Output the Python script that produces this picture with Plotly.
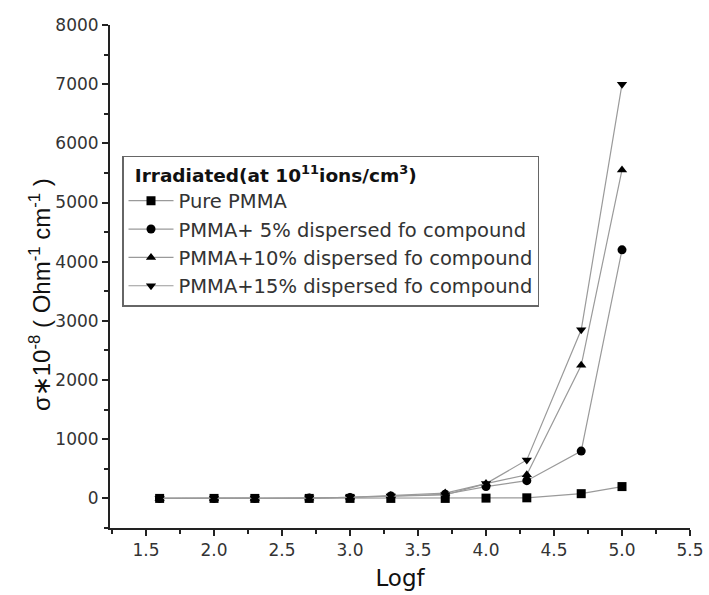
import plotly.graph_objects as go

# log10 of frequency
logf = [1.6, 2.0, 2.3, 2.7, 3.0, 3.3, 3.7, 4.0, 4.3, 4.7, 5.0]

# conductivity sigma * 10^-8 (Ohm^-1 cm^-1)
pure_pmma = [0, 0, 0, 0, 0, 0, 0, 5, 10, 80, 200]
pmma_5 = [0, 0, 0, 5, 15, 40, 70, 200, 300, 800, 4200]
pmma_10 = [0, 0, 0, 5, 20, 50, 90, 250, 400, 2250, 5550]
pmma_15 = [0, 0, 0, 5, 20, 40, 60, 250, 650, 2850, 7000]

series_names = [
    "Pure PMMA",
    "PMMA+ 5% dispersed fo compound",
    "PMMA+10% dispersed fo compound",
    "PMMA+15% dispersed fo compound",
]
series_values = [pure_pmma, pmma_5, pmma_10, pmma_15]
symbols = ["square", "circle", "triangle-up", "triangle-down"]

x_ticks = [1.5, 2.0, 2.5, 3.0, 3.5, 4.0, 4.5, 5.0, 5.5]
y_ticks = [0, 1000, 2000, 3000, 4000, 5000, 6000, 7000, 8000]

fig = go.Figure()
for name, vals, sym in zip(series_names, series_values, symbols):
    fig.add_trace(go.Scatter(
        x=logf, y=vals, name=name, mode="lines+markers",
        line=dict(color="#9a9a9a", width=1.2),
        marker=dict(symbol=sym, color="black", size=9),
    ))

wide = "DejaVu Sans, Verdana, sans-serif"
arial = "Liberation Sans, Arial, sans-serif"
axis_font = dict(family=wide, size=17, color="#333")

fig.update_layout(
    width=709, height=595,
    margin=dict(l=110, r=19, t=25, b=67),
    paper_bgcolor="white", plot_bgcolor="white",
    font=dict(family=wide, color="#111"),
    showlegend=True,
    legend=dict(
        x=0.0207, y=0.7396, xanchor="left", yanchor="top",
        bgcolor="white", bordercolor="#666", borderwidth=1.5,
        font=dict(family=wide, size=19.5, color="#333"),
        title=dict(text="\u2002<b>Irradiated(at 10<sup>11</sup>ions/cm<sup>3</sup>)</b>",
                   font=dict(family=wide, size=18.5, color="#111")),
        itemwidth=45, tracegroupgap=0,
    ),
    xaxis=dict(
        range=[1.235, 5.5], tickmode="array", automargin=False,
        tickvals=x_ticks, ticktext=[f"{v:.1f}" for v in x_ticks],
        ticks="outside", ticklen=6, tickwidth=1.5, tickcolor="#222",
        minor=dict(ticks="outside", ticklen=4, dtick=0.25, tick0=1.25,
                   tickcolor="#222", showgrid=False),
        showline=True, linecolor="#222", linewidth=2,
        showgrid=False, zeroline=False, tickfont=axis_font,
        title=dict(text="Logf", font=dict(family=wide, size=23, color="#111"), standoff=10),
    ),
    yaxis=dict(
        range=[-500, 8000], tickmode="array", automargin=False,
        tickvals=y_ticks, ticktext=[str(v) for v in y_ticks],
        ticks="outside", ticklen=6, tickwidth=1.5, tickcolor="#222",
        minor=dict(ticks="outside", ticklen=4, dtick=500, tick0=0,
                   tickcolor="#222", showgrid=False),
        showline=True, linecolor="#222", linewidth=2,
        showgrid=False, zeroline=False, tickfont=axis_font,
    ),
)

# vertical axis label, placed as a rotated annotation
fig.add_annotation(
    text="σ∗10<sup>-8</sup> ( Ohm<sup>-1</sup> cm<sup>-1</sup> )",
    xref="paper", yref="paper", x=0, y=0.463,
    xanchor="center", yanchor="middle", xshift=-70,
    textangle=-90, showarrow=False,
    font=dict(family=arial, size=24, color="#111"),
)

fig.write_html("out.html")
